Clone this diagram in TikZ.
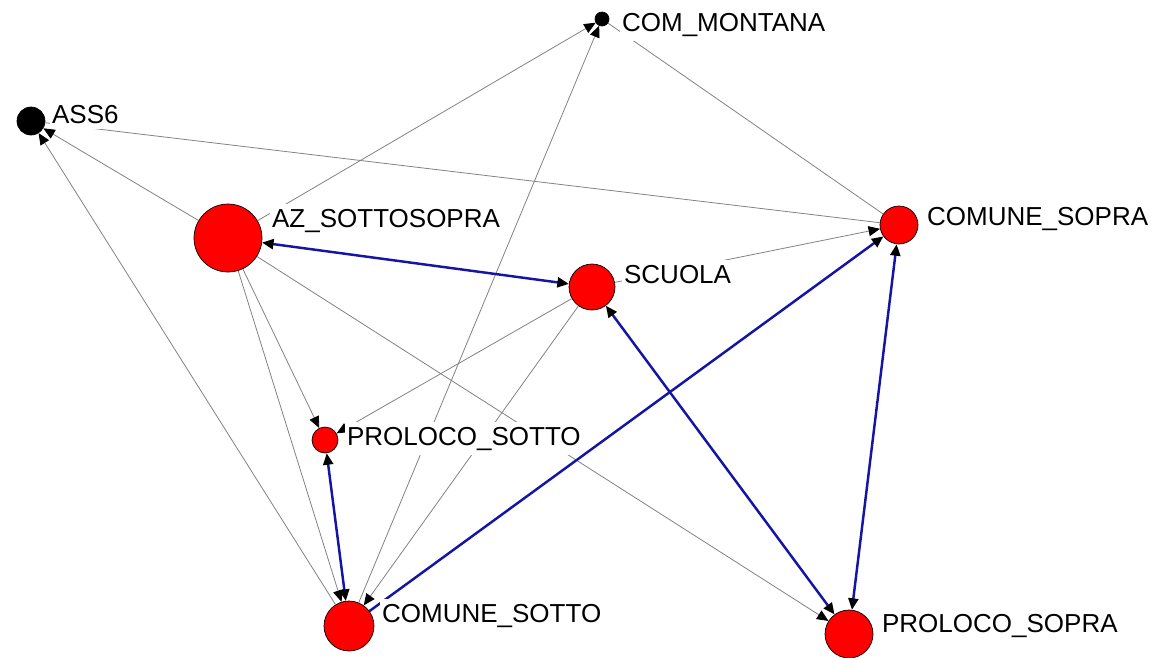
\documentclass[tikz,border=0pt]{standalone}
\usepackage{fontspec}
\setmainfont{Liberation Sans}
\usetikzlibrary{arrows.meta, positioning}
\definecolor{tieblue}{RGB}{20,20,165}
\definecolor{tiegray}{RGB}{130,130,130}
\tikzset{
actor/.style={circle, draw=black, line width=0.4pt, fill=red, inner sep=0pt},
sink/.style={circle, draw=black, fill=black, inner sep=0pt},
tip/.style={-{Triangle[length=2.3mm, width=2mm, color=black]}},
tie/.style={tiegray, line width=0.45pt, -{Triangle[length=2.3mm, width=2mm, color=black]}},
plain/.style={tiegray, line width=0.45pt},
mutual/.style={tieblue, line width=1.4pt,
    {Triangle[length=2.3mm, width=2mm, color=black]}-{Triangle[length=2.3mm, width=2mm, color=black]}},
oneway/.style={tieblue, line width=1.4pt, -{Triangle[length=2.3mm, width=2mm, color=black]}},
tag/.style={fill=white, inner xsep=1pt, inner ysep=3pt, anchor=base west, font=\fontsize{14.8}{17}\selectfont},
}

\begin{document}
\begin{tikzpicture}[x=0.02cm, y=-0.02cm]
            \useasboundingbox[fill=white] (0,0) rectangle (1156,657);

            \node[sink, minimum size=0.56cm] (ass6) at (31,121) {};
            \node[sink, minimum size=0.28cm] (montana) at (602,19) {};
            \node[actor, minimum size=1.36cm] (azss) at (228,238) {};
            \node[actor, minimum size=0.92cm] (scuola) at (592,287) {};
            \node[actor, minimum size=0.76cm] (csopra) at (899,225) {};
            \node[actor, minimum size=0.52cm] (psotto) at (325,440) {};
            \node[actor, minimum size=1.0cm] (csotto) at (349,626) {};
            \node[actor, minimum size=0.96cm] (psopra) at (849,634) {};

            % Ties from AZ_SOTTOSOPRA
            \draw[tie] (azss) -- (montana);
            \draw[tie] (azss) -- (ass6);
            \draw[tie] (azss) -- (psotto);
            \draw[tie] (azss) -- (csotto);
            \draw[tie] (azss) -- (psopra);

            % Ties from SCUOLA
            \draw[tie] (scuola) -- (psotto);
            \draw[tie] (scuola) -- (csotto);
            \draw[tie] (scuola) -- (csopra);

            % Ties from COMUNE_SOTTO
            \draw[tie] (csotto) -- (montana);
            \draw[tie] (csotto) -- (ass6);

            % Ties from COMUNE_SOPRA
            \draw[plain] (csopra) -- (montana);
            \draw[plain] (csopra) -- (ass6);

            % Reciprocal ties
            \draw[mutual] (azss) -- (scuola);
            \draw[mutual] (scuola) -- (psopra);
            \draw[mutual] (psotto) -- (csotto);
            \draw[mutual] (csopra) -- (psopra);
            \draw[oneway] (csotto) -- (csopra);

            % Labels
            \node[tag] (ass6-l) at (50,123) {ASS6};
            \node[tag] (montana-l) at (620,31) {COM\_MONTANA};
            \node[tag] (azss-l) at (270,227) {AZ\_SOTTOSOPRA};
            \node[tag] (scuola-l) at (622,283) {SCUOLA};
            \node[tag] (csopra-l) at (925,225) {COMUNE\_SOPRA};
            \node[tag] (psotto-l) at (345,445) {PROLOCO\_SOTTO};
            \node[tag] (csotto-l) at (380,622) {COMUNE\_SOTTO};
            \node[tag] (psopra-l) at (880,632) {PROLOCO\_SOPRA};
\end{tikzpicture}
\end{document}
